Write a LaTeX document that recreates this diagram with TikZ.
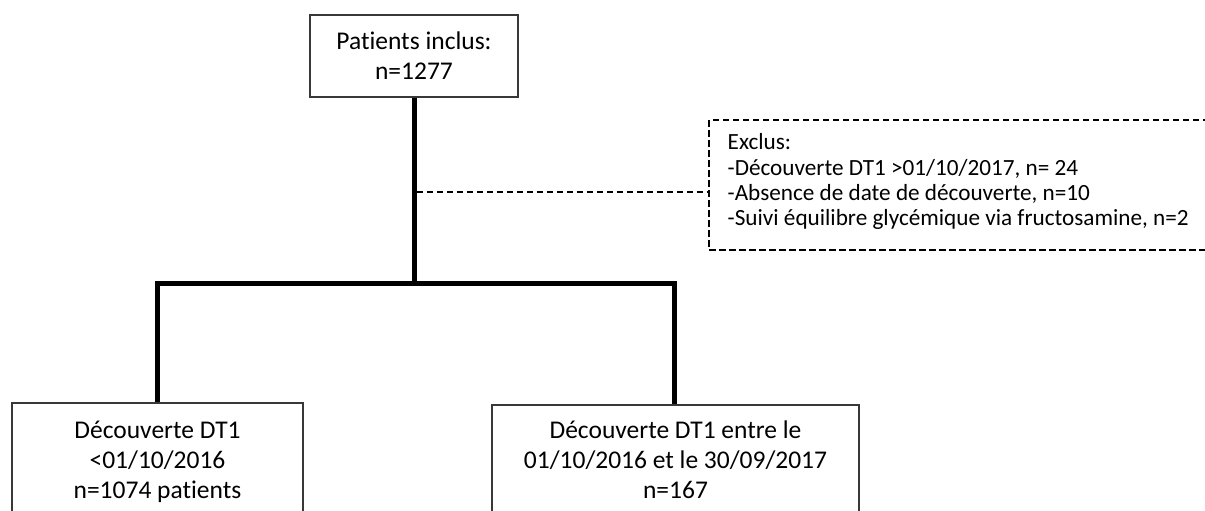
\documentclass[tikz,border=0pt]{standalone}
\usepackage{fontspec}
\setmainfont{Carlito}[Ligatures=NoCommon]
\newlength\exmeasw
\newlength\exfsize
\begin{document}
\settowidth\exmeasw{\fontsize{20}{24}\selectfont -Suivi équilibre glycémique via fructosamine, n=2}%
\setlength\exfsize{\dimexpr 20pt*\numexpr 461*65536\relax/\number\exmeasw\relax}%
\begin{tikzpicture}[x=1pt,y=-1pt,
  mainbox/.style={draw=black!78, line width=1.8pt, align=center, inner sep=0pt,
    font=\fontsize{25.5}{30}\selectfont},
  exbox/.style={draw=black, line width=2pt, dash pattern=on 6.5pt off 3.5pt,
    inner sep=0pt, anchor=west, minimum height=130pt, minimum width=700pt},
  extext/.style={align=left, inner sep=0pt, anchor=north west,
    font=\fontsize{\exfsize}{25.3}\selectfont},
  conn/.style={line width=5pt, line join=miter, draw=black},
  exconn/.style={line width=2pt, dash pattern=on 6.5pt off 3.5pt, draw=black}]
\useasboundingbox (0,0) rectangle (1205,511);
\clip (0,0) rectangle (1205,511);
\fill[white] (0,0) rectangle (1205,511);

\node[mainbox, minimum width=208pt, minimum height=82pt] (top) at (414,56)
  {Patients inclus:\\n=1277};
\node[mainbox, minimum width=291pt, minimum height=118pt] (lb) at (157.5,462)
  {\strut Découverte DT1\\<01/10/2016\\n=1074 patients\strut};
\node[mainbox, minimum width=367pt, minimum height=114pt] (rb) at (675.5,462)
  {\strut Découverte DT1 entre le\\01/10/2016 et le 30/09/2017\\n=167\strut};
\node[exbox] (ex) at (708,185) {};
\node[extext] (ext) at (727.5,131.8)
  {\strut Exclus:\\-Découverte DT1 >01/10/2017, n= 24\\-Absence de date de découverte, n=10\\-Suivi équilibre glycémique via fructosamine, n=2};

\coordinate (jc) at (414,283);
\coordinate (jl) at (157.5,283);
\coordinate (jr) at (674,283);
\coordinate (dc) at (416.5,191.7);

\draw[conn] (top.south) -- (jc);
\draw[conn] (lb.north) -- (jl) -- (jr) -- (rb.north -| jr);
\draw[exconn] (dc) -- (ex.west |- dc);
\end{tikzpicture}
\end{document}
